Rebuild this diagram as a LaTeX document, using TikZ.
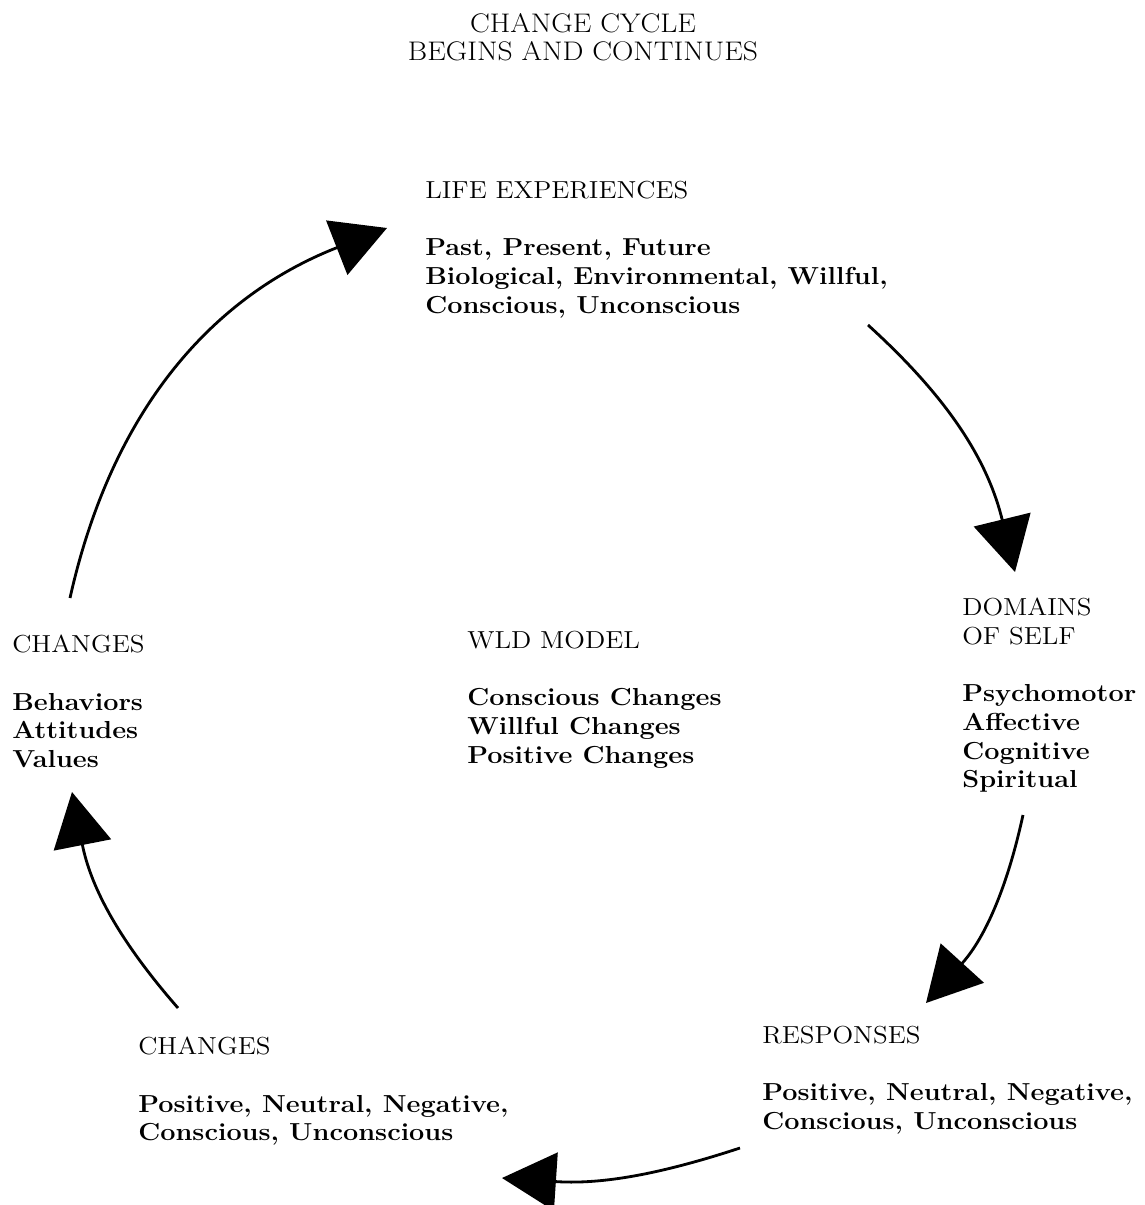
\documentclass[tikz,border=0pt]{standalone}
\usepackage{fontspec}
\setmainfont{Latin Modern Roman}[FakeStretch=1.1]
\usepackage{tikz}
\usetikzlibrary{
	positioning,
	arrows.meta
}

\tikzset{
	heading/.style={anchor=north, inner sep=0pt, align=center, font=\fontsize{15.3}{15.9}\selectfont},
	block/.style={anchor=north west, inner sep=0pt, align=left, font=\fontsize{14}{16.3}\selectfont},
	cycle arrow/.style={line width=1.6pt, -{Triangle[length=1.08cm,width=1.16cm]}}
}

\begin{document}
\begin{tikzpicture}[x=0.02cm,y=-0.02cm]
	\useasboundingbox (0,0) rectangle (1145,1205);
	\draw
		node [heading] (title)   at (583,13)  {CHANGE CYCLE\\BEGINS AND CONTINUES}
		node [block]   (life)    at (425,181) {LIFE EXPERIENCES\\[16.3pt]\textbf{Past, Present, Future}\\\textbf{Biological, Environmental, Willful,}\\\textbf{Conscious, Unconscious}}
		node [block]   (domains) at (962,598) {DOMAINS\\OF SELF\\[16.3pt]\textbf{Psychomotor}\\\textbf{Affective}\\\textbf{Cognitive}\\\textbf{Spiritual}}
		node [block]   (wld)     at (467,631) {WLD MODEL\\[16.3pt]\textbf{Conscious Changes}\\\textbf{Willful Changes}\\\textbf{Positive Changes}}
		node [block]   (changes) at (12,635)  {CHANGES\\[16.3pt]\textbf{Behaviors}\\\textbf{Attitudes}\\\textbf{Values}}
		node [block]   (resp)    at (762,1026) {RESPONSES\\[16.3pt]\textbf{Positive, Neutral, Negative,}\\\textbf{Conscious, Unconscious}}
		node [block]   (outcome) at (138,1037) {CHANGES\\[16.3pt]\textbf{Positive, Neutral, Negative,}\\\textbf{Conscious, Unconscious}}
	;
	% ends of the five arcs round the cycle
	\coordinate (c1a) at (70,598);
	\coordinate (c1b) at (387,228);
	\coordinate (c2a) at (868,325);
	\coordinate (c2b) at (1015,572);
	\coordinate (c3a) at (1023,815);
	\coordinate (c3b) at (926,1003);
	\coordinate (c4a) at (740,1148);
	\coordinate (c4b) at (502,1178);
	\coordinate (c5a) at (178,1008);
	\coordinate (c5b) at (72,792);
	\draw[cycle arrow] (c1a) to[bend left=28] (c1b);
	\draw[cycle arrow] (c2a) to[bend left=17] (c2b);
	\draw[cycle arrow] (c3a) to[bend left=15] (c3b);
	\draw[cycle arrow] (c4a) to[bend left=11] (c4b);
	\draw[cycle arrow] (c5a) to[bend left=15] (c5b);
\end{tikzpicture}
\end{document}
